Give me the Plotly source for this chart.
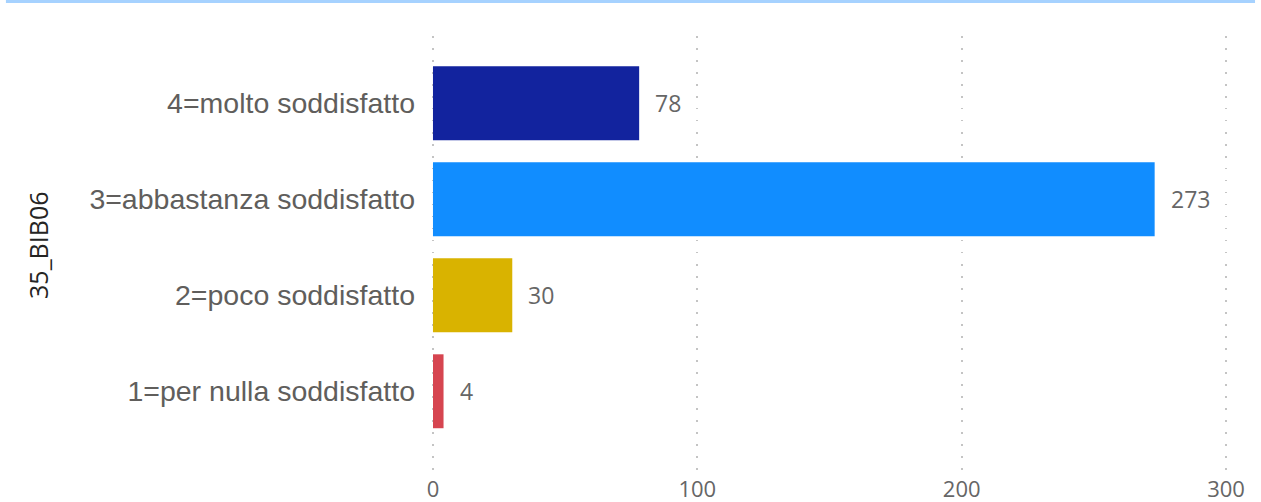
import plotly.graph_objects as go

categories = ["1=per nulla soddisfatto", "2=poco soddisfatto", "3=abbastanza soddisfatto", "4=molto soddisfatto"]
values = [4, 30, 273, 78]
colors = ["#D64550", "#D9B300", "#118DFF", "#12239E"]
x_ticks = [0, 100, 200, 300]
axis_title = "35_BIB06"

W, H = 1261, 502
ppu = (1226 - 433) / 300.0
xmin, xmax = -1.5, 301.5
ml = 433 + xmin * ppu
mr = W - (433 + xmax * ppu)
mt, mb = 36, 32
pw = W - ml - mr
ph = H - mt - mb

fig = go.Figure()
fig.add_trace(go.Bar(
    y=categories, x=values, orientation="h",
    marker=dict(color=colors, line=dict(width=0)),
    hoverinfo="x+y",
))

for c, v in zip(categories, values):
    fig.add_annotation(x=v, y=c, text=str(v), showarrow=False, xanchor="left",
                       xshift=14, font=dict(family="Open Sans, Roboto, sans-serif", size=23, color="#666666"))

fig.add_annotation(xref="paper", yref="paper", x=(38 - ml) / pw, y=(H - mb - 245) / ph,
                   text=axis_title, textangle=-90, showarrow=False, xanchor="center", yanchor="middle",
                   font=dict(family="Open Sans, DejaVu Sans, sans-serif", size=25, color="#252423"))

fig.add_shape(type="line", xref="paper", yref="paper",
              x0=(6 - ml) / pw, x1=(1255 - ml) / pw,
              y0=1 + (mt - 1.5) / ph, y1=1 + (mt - 1.5) / ph,
              line=dict(color="#A6D2FF", width=3))

fig.update_layout(
    width=W, height=H,
    margin=dict(l=ml, r=mr, t=mt, b=mb, autoexpand=False),
    paper_bgcolor="white", plot_bgcolor="white",
    bargap=0.23, showlegend=False,
    xaxis=dict(range=[xmin, xmax], tickvals=x_ticks, showgrid=True, gridcolor="#C4C4C4",
               griddash="1.5px,10.5px", gridwidth=1.5, zeroline=False, showline=False,
               automargin=False,
               tickfont=dict(family="Open Sans, Roboto, sans-serif", size=22, color="#666666"),
               ticklabelstandoff=4),
    yaxis=dict(categoryorder="array", categoryarray=categories, range=[-0.82, 3.70],
               showgrid=False, zeroline=False, showline=False, automargin=False,
               tickfont=dict(family="Liberation Sans, Arial, sans-serif", size=28.5, color="#605E5C"),
               ticklabelstandoff=13),
)

fig.write_html("out.html", config={"displayModeBar": False},
               post_script="document.body.style.margin='0';")
